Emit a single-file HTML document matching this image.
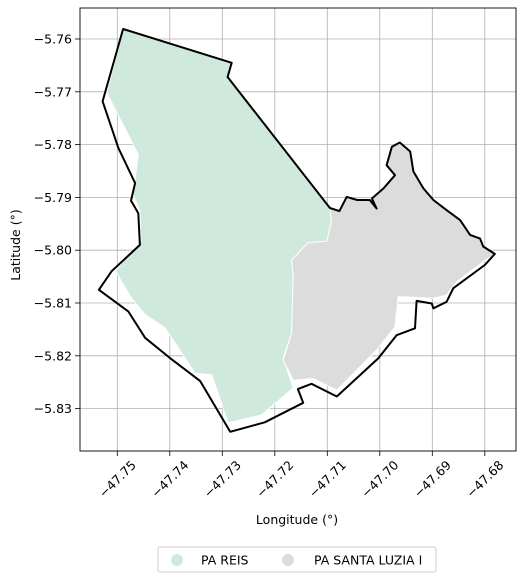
<!DOCTYPE html>
<html><head><meta charset="utf-8"><style>
body{margin:0;background:#fff;}
svg{display:block;font-family:"DejaVu Sans","Liberation Sans",sans-serif;}
</style></head><body>
<svg id="chart" width="524" height="582" viewBox="0 0 524 582" xmlns="http://www.w3.org/2000/svg">
<g id="grid"></g>
<g id="polys"></g>
<rect x="80" y="8" width="436" height="443" fill="none" stroke="#000" stroke-width="0.9"/>
<g id="axes"></g>
<text x="297" y="524" font-size="12.5" text-anchor="middle">Longitude (°)</text>
<text x="0" y="0" font-size="12.5" text-anchor="middle" transform="translate(20,245) rotate(-90)">Latitude (°)</text>
<g>
<rect x="158" y="547" width="278" height="25" rx="2" fill="#fff" stroke="#ccc"/>
<circle cx="177" cy="560" r="6" fill="#cfeadd"/>
<text x="201" y="564.5" font-size="12.5">PA REIS</text>
<circle cx="288" cy="560" r="6" fill="#dcdcdc"/>
<text x="314" y="564.5" font-size="12.5">PA SANTA LUZIA I</text>
</g>
</svg>
<script>
const xTicks=[-47.75,-47.74,-47.73,-47.72,-47.71,-47.70,-47.69,-47.68];
const xTickLabels=["−47.75","−47.74","−47.73","−47.72","−47.71","−47.70","−47.69","−47.68"];
const yTicks=[-5.76,-5.77,-5.78,-5.79,-5.80,-5.81,-5.82,-5.83];
const yTickLabels=["−5.76","−5.77","−5.78","−5.79","−5.80","−5.81","−5.82","−5.83"];
const reisLon=[-47.7489,-47.7282,-47.7290,-47.7095,-47.7092,-47.7101,-47.7137,-47.7168,-47.7165,-47.7168,-47.7184,-47.7165,-47.7225,-47.7289,-47.7320,-47.7352,-47.7409,-47.7447,-47.7473,-47.7504,-47.7455,-47.7457,-47.7470,-47.7460,-47.7520];
const reisLat=[-5.7581,-5.7645,-5.7672,-5.7920,-5.7945,-5.7983,-5.7986,-5.8019,-5.8047,-5.8157,-5.8204,-5.8261,-5.8312,-5.8327,-5.8236,-5.8233,-5.8147,-5.8122,-5.8091,-5.8039,-5.7983,-5.7926,-5.7895,-5.7819,-5.7702];
const luziaLon=[-47.7095,-47.7077,-47.7063,-47.7043,-47.7019,-47.7006,-47.7015,-47.6993,-47.6971,-47.6987,-47.6977,-47.6962,-47.6942,-47.6936,-47.6917,-47.6898,-47.6873,-47.6847,-47.6828,-47.6809,-47.6803,-47.6781,-47.6803,-47.6854,-47.6873,-47.6898,-47.6965,-47.6971,-47.7006,-47.7082,-47.7127,-47.7165,-47.7184,-47.7168,-47.7165,-47.7168,-47.7137,-47.7101,-47.7092];
const luziaLat=[-5.7920,-5.7926,-5.7899,-5.7905,-5.7905,-5.7921,-5.7902,-5.7883,-5.7858,-5.7839,-5.7804,-5.7796,-5.7813,-5.7851,-5.7883,-5.7905,-5.7924,-5.7943,-5.7971,-5.7978,-5.7993,-5.8007,-5.8022,-5.8060,-5.8085,-5.8091,-5.8088,-5.8145,-5.8189,-5.8265,-5.8243,-5.8246,-5.8208,-5.8157,-5.8047,-5.8019,-5.7986,-5.7983,-5.7945];
const outerLon=[-47.7489,-47.7282,-47.7290,-47.7095,-47.7077,-47.7063,-47.7043,-47.7019,-47.7006,-47.7015,-47.6993,-47.6971,-47.6987,-47.6977,-47.6962,-47.6942,-47.6936,-47.6917,-47.6898,-47.6873,-47.6847,-47.6828,-47.6809,-47.6803,-47.6781,-47.6800,-47.6860,-47.6873,-47.6898,-47.6901,-47.6930,-47.6933,-47.6968,-47.7003,-47.7082,-47.7130,-47.7156,-47.7146,-47.7219,-47.7285,-47.7342,-47.7400,-47.7447,-47.7479,-47.7535,-47.7511,-47.7457,-47.7460,-47.7474,-47.7466,-47.7498,-47.7528];
const outerLat=[-5.7581,-5.7645,-5.7672,-5.7920,-5.7926,-5.7899,-5.7905,-5.7905,-5.7921,-5.7902,-5.7883,-5.7858,-5.7839,-5.7804,-5.7796,-5.7813,-5.7851,-5.7883,-5.7905,-5.7924,-5.7943,-5.7971,-5.7978,-5.7993,-5.8007,-5.8028,-5.8072,-5.8098,-5.8110,-5.8101,-5.8096,-5.8148,-5.8161,-5.8205,-5.8277,-5.8253,-5.8263,-5.8289,-5.8326,-5.8344,-5.8248,-5.8204,-5.8166,-5.8116,-5.8075,-5.8040,-5.7990,-5.7930,-5.7906,-5.7873,-5.7806,-5.7718];

const NS="http://www.w3.org/2000/svg";
function xs(lon){return 117.3+(lon+47.75)*5250;}
function ys(lat){return 39+(-5.76-lat)*5280;}
function mk(tag,attrs,parent){const e=document.createElementNS(NS,tag);for(const k in attrs)e.setAttribute(k,attrs[k]);parent.appendChild(e);return e;}
const grid=document.getElementById('grid'),axes=document.getElementById('axes'),polys=document.getElementById('polys');
xTicks.forEach((t,i)=>{const x=xs(t);
 const g=mk('line',{x1:x,x2:x,y1:8,y2:451,stroke:'#b0b0b0','stroke-width':0.8},grid);
 
 
 const tk=mk('line',{x1:x,x2:x,y1:451,y2:456,stroke:'#000','stroke-width':0.8},axes);
 
 
 const tx=mk('text',{x:0,y:4.5,'font-size':12.5,'text-anchor':'middle',transform:'translate('+x+',479) rotate(-45)'},axes);
 tx.textContent=xTickLabels[i];
 
 
});
yTicks.forEach((t,i)=>{const y=ys(t);
 const g=mk('line',{x1:80,x2:516,y1:y,y2:y,stroke:'#b0b0b0','stroke-width':0.8},grid);
 
 
 const tk=mk('line',{x1:75,x2:80,y1:y,y2:y,stroke:'#000','stroke-width':0.8},axes);
 
 
 const tx=mk('text',{x:72,y:y+4.5,'font-size':12.5,'text-anchor':'end'},axes);
 tx.textContent=yTickLabels[i];
 
 
});
function pts(lo,la){return lo.map((v,i)=>xs(v).toFixed(1)+','+ys(la[i]).toFixed(1)).join(' ');}
const p1=mk('polygon',{points:pts(reisLon,reisLat),fill:'#cfeadd',stroke:'#fff','stroke-width':1},polys);


const p2=mk('polygon',{points:pts(luziaLon,luziaLat),fill:'#dcdcdc',stroke:'#fff','stroke-width':1},polys);


const p3=mk('polygon',{points:pts(outerLon,outerLat),fill:'none',stroke:'#000','stroke-width':2,'stroke-linejoin':'round'},polys);


</script>
</body></html>
